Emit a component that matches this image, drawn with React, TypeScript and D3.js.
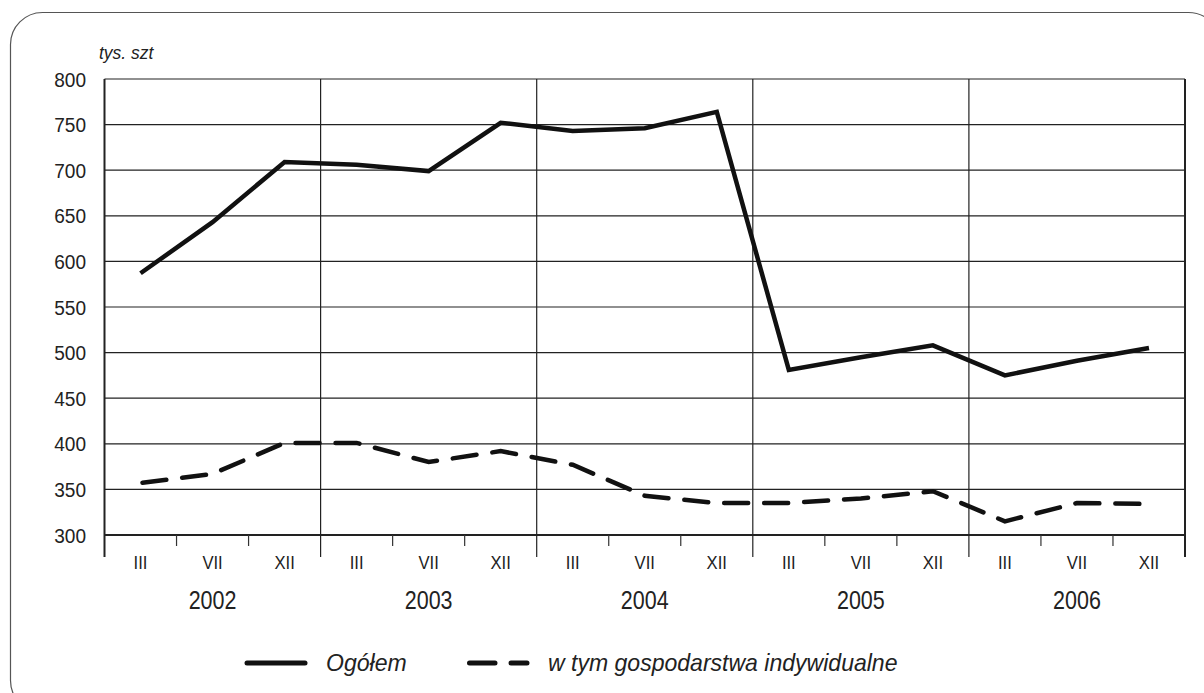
import React from "react";
import * as d3 from "d3";

const years = ["2002", "2003", "2004", "2005", "2006"];
const months = ["III", "VII", "XII"];
const yTicks = [300, 350, 400, 450, 500, 550, 600, 650, 700, 750, 800];
const ogolem = [587, 643, 709, 706, 699, 752, 743, 746, 764, 481, 495, 508, 475, 491, 505];
const indywidualne = [357, 367, 401, 401, 380, 392, 377, 343, 335, 335, 340, 348, 315, 335, 334];
const seriesNames = ["Ogółem", "w tym gospodarstwa indywidualne"];

const W = 1204;
const H = 693;
const left = 104.5;
const right = 1185;
const top = 79;
const bottom = 535;

export default function App() {
  const n = years.length * months.length;
  const x = d3.scaleLinear().domain([0, n]).range([left, right]);
  const y = d3.scaleLinear().domain([300, 800]).range([bottom, top]);
  const line = d3
    .line<number>()
    .x((_, i) => x(i + 0.5))
    .y((d) => y(d));
  const font = "'Liberation Sans', Arial, sans-serif";
  const slots = d3.range(n);
  return (
    <svg
      width={W}
      height={H}
      style={{ position: "absolute", left: 0, top: 0, background: "#fff" }}
      fontFamily={font}
    >
      <rect x={10.5} y={12.5} width={1210} height={700} rx={32} ry={32} fill="none" stroke="#555" strokeWidth={1.2} />
      <text transform="translate(99,59) scale(0.97,1)" fontSize={18} fontStyle="italic" fill="#222">tys. szt</text>
      {yTicks.map((t) => (
        <line key={"h" + t} x1={left} x2={right} y1={y(t)} y2={y(t)} stroke="#222" strokeWidth={t === 300 ? 2.2 : 1.2} />
      ))}
      {yTicks.map((t) => (
        <text
          key={"yt" + t}
          transform={`translate(86,${y(t) + 7.5}) scale(0.93,1)`}
          textAnchor="end"
          fontSize={20.5}
          fill="#222"
        >
          {t}
        </text>
      ))}
      {d3.range(years.length + 1).map((k) => (
        <line
          key={"yb" + k}
          x1={x(k * 3)}
          x2={x(k * 3)}
          y1={top}
          y2={557}
          stroke="#222"
          strokeWidth={k === 0 || k === years.length ? 2 : 1.2}
        />
      ))}
      {slots
        .filter((i) => i % 3 !== 0)
        .map((i) => (
          <line key={"mt" + i} x1={x(i)} x2={x(i)} y1={bottom} y2={546} stroke="#333" strokeWidth={1.2} />
        ))}
      {slots.map((i) => (
        <text
          key={"ml" + i}
          transform={`translate(${x(i + 0.5)},569) scale(0.9,1)`}
          textAnchor="middle"
          fontSize={18.5}
          fill="#222"
        >
          {months[i % 3]}
        </text>
      ))}
      {years.map((yr, k) => (
        <text
          key={"yl" + yr}
          transform={`translate(${x(k * 3 + 1.5)},608.5) scale(0.86,1)`}
          textAnchor="middle"
          fontSize={25}
          fill="#222"
        >
          {yr}
        </text>
      ))}
      <path d={line(ogolem) || ""} fill="none" stroke="#111" strokeWidth={4.5} strokeLinejoin="miter" />
      <path
        d={line(indywidualne) || ""}
        fill="none"
        stroke="#111"
        strokeWidth={4.5}
        strokeDasharray="24 16"
        strokeLinecap="round"
        strokeDashoffset={-2}
      />
      <line x1={247} x2={305} y1={663} y2={663} stroke="#111" strokeWidth={5} strokeLinecap="round" />
      <text transform="translate(326,671) scale(0.96,1)" fontSize={24} fontStyle="italic" fill="#222">
        {seriesNames[0]}
      </text>
      <line x1={469.5} x2={527} y1={663} y2={663} stroke="#111" strokeWidth={5} strokeLinecap="round" strokeDasharray="25.5 16" />
      <text transform="translate(548,671) scale(0.96,1)" fontSize={24} fontStyle="italic" fill="#222">
        {seriesNames[1]}
      </text>
    </svg>
  );
}
